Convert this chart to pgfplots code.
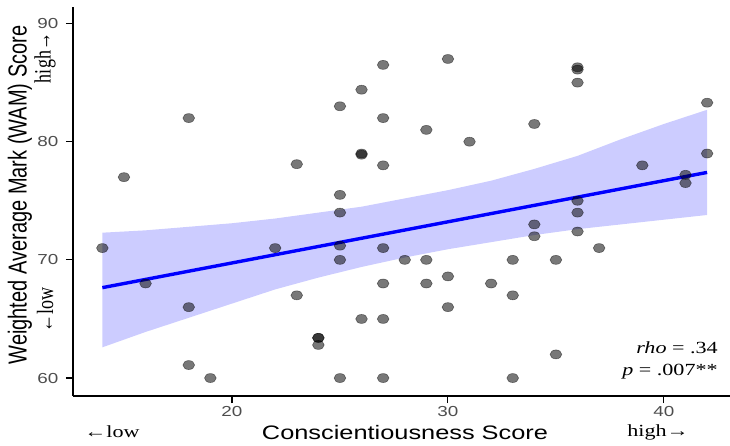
\documentclass[border=0pt]{standalone}
\usepackage{pgfplots}
\pgfplotsset{compat=1.18}
\usepackage{fontspec}
\setmainfont{Liberation Sans}
\newfontfamily\sansW[FakeStretch=1.3]{Liberation Sans}
\newfontfamily\serifW[FakeStretch=1.3]{Liberation Serif}
\newfontfamily\serifN{Liberation Serif}
\definecolor{tickgray}{HTML}{4D4D4D}
\begin{document}
\begin{tikzpicture}
\begin{axis}[
  at={(0pt,0pt)}, anchor=south west,
  scale only axis, width=657pt, height=389pt,
  xmin=12.64, xmax=43.06, ymin=58.48, ymax=91.4,
  axis lines=left, axis line style={-, line width=1.6pt},
  xtick={20,30,40}, ytick={60,70,80,90},
  tick align=outside, major tick length=7pt,
  tick style={line width=1.1pt, black},
  ticklabel style={font=\sansW\fontsize{14.5}{14.5}\selectfont, text=tickgray},
  yticklabel style={xshift=-4pt},
  /pgf/number format/assume math mode=true,
  clip=false,
]
% points
\addplot[only marks, mark=*, mark size=4.5pt,
  mark options={xscale=1.3, fill=black, fill opacity=0.53, draw=black, draw opacity=0.45, line width=0.6pt}]
table[row sep=\\] {
x y \\
14 71 \\ 15 77 \\ 16 68 \\ 18 82 \\ 18 66 \\ 18 61.1 \\ 19 60 \\
22 71 \\ 23 78.1 \\ 23 67 \\ 24 63.4 \\ 24 63.4 \\ 24 62.8 \\
25 83 \\ 25 75.5 \\ 25 74 \\ 25 71.2 \\ 25 70 \\ 25 60 \\
26 84.4 \\ 26 79 \\ 26 78.9 \\ 26 65 \\
27 86.5 \\ 27 82 \\ 27 78 \\ 27 71 \\ 27 68 \\ 27 65 \\ 27 60 \\
28 70 \\ 29 81 \\ 29 70 \\ 29 68 \\
30 87 \\ 30 68.6 \\ 30 66 \\ 31 80 \\ 32 68 \\
33 70 \\ 33 67 \\ 33 60 \\ 34 81.5 \\ 34 73 \\ 34 72 \\
35 70 \\ 35 62 \\ 36 86.3 \\ 36 86.1 \\ 36 85 \\ 36 75 \\ 36 74 \\ 36 72.4 \\
37 71 \\ 39 78 \\ 41 77.2 \\ 41 76.5 \\ 42 83.3 \\ 42 79 \\
};
% confidence band
\addplot[draw=none, fill=blue, fill opacity=0.2] table[row sep=\\] {
x y \\
14 72.3 \\ 16 72.5 \\ 18 72.8 \\ 20 73.1 \\ 22 73.5 \\ 24 74.0 \\ 26 74.5 \\
28 75.2 \\ 30 75.9 \\ 32 76.7 \\ 34 77.7 \\ 36 78.8 \\ 38 80.2 \\ 40 81.5 \\ 42 82.7 \\
42 73.8 \\ 40 73.4 \\ 38 73.0 \\ 36 72.6 \\ 34 72.1 \\ 32 71.5 \\ 30 70.9 \\
28 70.2 \\ 26 69.4 \\ 24 68.5 \\ 22 67.5 \\ 20 66.3 \\ 18 65.1 \\ 16 63.9 \\ 14 62.6 \\
} -- cycle;
% regression line
\addplot[blue, line width=3.4pt] coordinates {(14,67.65) (42,77.4)};
\end{axis}
% labels
\node[rotate=90, yscale=1.3] at (-53pt,201pt) {\fontsize{20}{20}\selectfont Weighted Average Mark (WAM) Score};
\node[rotate=90, yscale=1.3] at (-28pt,338pt) {\serifN\fontsize{18}{18}\selectfont high\textrightarrow};
\node[rotate=90, yscale=1.3] at (-28pt,86pt) {\serifN\fontsize{18}{18}\selectfont \textleftarrow low};
\node at (332pt,-37pt) {\sansW\fontsize{19.5}{19.5}\selectfont Conscientiousness Score};
\node at (39pt,-36pt) {\serifW\fontsize{17}{17}\selectfont \textleftarrow low};
\node at (585pt,-36pt) {\serifW\fontsize{17}{17}\selectfont high\textrightarrow};
\node at (604pt,48pt) {\serifW\fontsize{17}{17}\selectfont \textit{rho} = .34};
\node at (597pt,24pt) {\serifW\fontsize{17}{17}\selectfont \textit{p} = .007**};
\pgfresetboundingbox
\path[use as bounding box] (-73pt,-49pt) rectangle (657pt,396pt);
\end{tikzpicture}
\end{document}
